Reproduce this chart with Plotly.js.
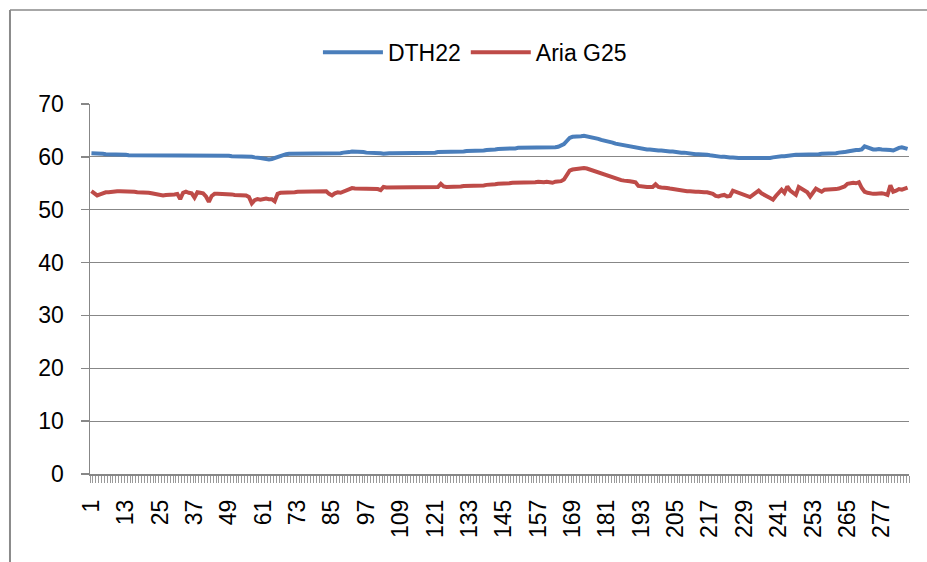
<!DOCTYPE html>
<html>
<head>
<meta charset="utf-8">
<script src="https://cdn.plot.ly/plotly-3.0.1.min.js"></script>
<style>
  html, body { margin: 0; padding: 0; background: #ffffff; }
  #chart { width: 927px; height: 562px; }
</style>
</head>
<body>
<div id="chart"></div>
<script>
// ---- data ----
const seriesNames = ["DTH22", "Aria G25"];

const dth22 = [
  60.7, 60.7, 60.6, 60.6, 60.6, 60.5, 60.5, 60.5, 60.5, 60.4,
  60.4, 60.4, 60.4, 60.3, 60.3, 60.3, 60.3, 60.3, 60.3, 60.3,
  60.3, 60.3, 60.2, 60.2, 60.2, 60.2, 60.2, 60.3, 60.3, 60.3,
  60.3, 60.3, 60.3, 60.3, 60.3, 60.3, 60.3, 60.3, 60.3, 60.3,
  60.3, 60.3, 60.3, 60.3, 60.3, 60.2, 60.2, 60.2, 60.2, 60.1,
  60.1, 60.1, 60.1, 60.0, 60.0, 60.0, 60.0, 59.9, 59.9, 59.8,
  59.7, 59.6, 59.5, 59.6, 59.8, 60.0, 60.2, 60.4, 60.5, 60.6,
  60.6, 60.6, 60.6, 60.6, 60.6, 60.6, 60.6, 60.7, 60.7, 60.7,
  60.7, 60.7, 60.7, 60.7, 60.7, 60.7, 60.7, 60.7, 60.8, 60.8,
  60.9, 61.0, 61.0, 60.9, 60.9, 60.9, 60.8, 60.8, 60.8, 60.8,
  60.7, 60.7, 60.6, 60.7, 60.7, 60.7, 60.7, 60.7, 60.7, 60.7,
  60.7, 60.8, 60.8, 60.8, 60.8, 60.8, 60.8, 60.8, 60.8, 60.8,
  60.8, 60.9, 60.9, 60.9, 60.9, 60.9, 60.9, 61.0, 61.0, 61.0,
  61.0, 61.1, 61.1, 61.1, 61.2, 61.2, 61.2, 61.2, 61.3, 61.3,
  61.4, 61.4, 61.5, 61.5, 61.5, 61.6, 61.6, 61.6, 61.6, 61.7,
  61.7, 61.7, 61.7, 61.7, 61.7, 61.7, 61.7, 61.8, 61.8, 61.7,
  61.7, 61.8, 61.8, 61.9, 62.1, 62.4, 63.0, 63.6, 63.8, 63.8,
  63.9, 63.9, 64.0, 63.9, 63.7, 63.6, 63.5, 63.4, 63.2, 63.1,
  62.9, 62.8, 62.7, 62.5, 62.4, 62.3, 62.2, 62.0, 61.9, 61.8,
  61.7, 61.6, 61.6, 61.5, 61.4, 61.4, 61.3, 61.3, 61.2, 61.2,
  61.1, 61.1, 61.0, 61.0, 60.9, 60.9, 60.8, 60.8, 60.7, 60.6,
  60.6, 60.5, 60.5, 60.5, 60.4, 60.4, 60.3, 60.2, 60.1, 60.1,
  60.0, 60.0, 59.9, 59.9, 59.9, 59.8, 59.8, 59.8, 59.8, 59.7,
  59.7, 59.7, 59.7, 59.7, 59.7, 59.8, 59.8, 59.8, 59.9, 60.0,
  60.0, 60.1, 60.1, 60.2, 60.3, 60.3, 60.4, 60.4, 60.4, 60.4,
  60.5, 60.5, 60.5, 60.5, 60.5, 60.6, 60.6, 60.6, 60.6, 60.7,
  60.7, 60.8, 60.8, 60.9, 61.0, 61.1, 61.3, 61.3, 61.3, 61.4,
  62.0, 61.8, 61.5, 61.4, 61.4, 61.5, 61.4, 61.4, 61.4, 61.3,
  61.2, 61.5, 61.7, 61.8, 61.6, 61.5
];

const ariaG25 = [
  53.5, 53.2, 52.7, 52.9, 53.2, 53.3, 53.3, 53.4, 53.4, 53.5,
  53.5, 53.5, 53.5, 53.5, 53.4, 53.4, 53.3, 53.3, 53.3, 53.3,
  53.2, 53.1, 53.0, 52.9, 52.8, 52.7, 52.8, 52.8, 52.8, 52.9,
  53.0, 52.0, 53.2, 53.4, 53.2, 53.1, 52.3, 53.3, 53.2, 53.1,
  52.5, 51.5, 52.6, 53.0, 53.0, 53.0, 52.9, 52.9, 52.9, 52.9,
  52.8, 52.8, 52.8, 52.8, 52.7, 52.4, 51.2, 51.8, 52.0, 51.9,
  52.0, 52.1, 52.0, 52.0, 51.6, 53.0, 53.2, 53.2, 53.3, 53.3,
  53.3, 53.3, 53.4, 53.4, 53.4, 53.4, 53.4, 53.4, 53.4, 53.4,
  53.5, 53.5, 53.5, 53.0, 52.7, 53.1, 53.3, 53.2, 53.4, 53.5,
  53.8, 54.1, 54.0, 54.0, 54.0, 54.0, 54.0, 53.9, 53.9, 53.9,
  53.9, 53.7, 54.3, 54.2, 54.2, 54.2, 54.2, 54.2, 54.2, 54.2,
  54.2, 54.2, 54.2, 54.2, 54.2, 54.2, 54.3, 54.3, 54.3, 54.3,
  54.3, 54.3, 54.9, 54.4, 54.3, 54.3, 54.4, 54.4, 54.4, 54.4,
  54.5, 54.5, 54.5, 54.5, 54.6, 54.6, 54.6, 54.6, 54.7, 54.7,
  54.8, 54.8, 54.9, 54.9, 55.0, 55.0, 55.0, 55.1, 55.1, 55.1,
  55.2, 55.2, 55.2, 55.2, 55.1, 55.2, 55.3, 55.2, 55.2, 55.3,
  55.2, 55.1, 55.3, 55.3, 55.4, 55.7, 56.5, 57.4, 57.6, 57.7,
  57.7, 57.8, 57.9, 57.8, 57.6, 57.4, 57.2, 57.0, 56.8, 56.6,
  56.4, 56.2, 56.1, 55.9, 55.7, 55.6, 55.5, 55.5, 55.4, 55.3,
  55.2, 54.5, 54.4, 54.4, 54.3, 54.3, 54.3, 54.8, 54.3, 54.2,
  54.2, 54.1, 54.0, 53.9, 53.8, 53.7, 53.7, 53.6, 53.5, 53.5,
  53.4, 53.4, 53.4, 53.3, 53.3, 53.3, 53.2, 53.0, 52.6, 52.5,
  52.7, 52.8, 52.5, 52.6, 53.6, 53.4, 53.2, 53.0, 52.8, 52.6,
  52.4, 52.8, 53.2, 53.6, 53.1, 52.9, 52.5, 52.2, 51.9, 52.6,
  53.3, 53.8, 53.2, 54.4, 53.6, 53.2, 52.8, 54.3, 53.9, 53.5,
  53.3, 52.5, 53.2, 54.0, 53.7, 53.4, 53.8, 53.8, 53.9, 53.9,
  53.9, 54.0, 54.2, 54.4, 54.9, 55.1, 55.1, 55.0, 55.2, 54.1,
  53.4, 53.2, 53.0, 53.0, 53.0, 53.1, 53.1, 53.0, 52.8, 54.6,
  53.4, 53.6, 53.9, 53.8, 54.0, 54.2
];

// categories 1..N (sample index)
const categories = dth22.map((_, i) => i + 1);
// labelled categories (every 12th)
const tickLabels = categories.filter(c => (c - 1) % 12 === 0);
const yTicks = [0, 10, 20, 30, 40, 50, 60, 70];

// ---- chart ----
const FONT = "'Liberation Sans', Arial, sans-serif";
const GRAY = '#878787';

const traces = [
  {
    x: categories, y: dth22, name: seriesNames[0], type: 'scatter', mode: 'lines',
    line: { color: '#4a7ebb', width: 4 }
  },
  {
    x: categories, y: ariaG25, name: seriesNames[1], type: 'scatter', mode: 'lines',
    line: { color: '#be4b48', width: 4 }
  }
];

const layout = {
  width: 927, height: 562,
  margin: { l: 90, r: 18, t: 104, b: 88, pad: 0 },
  paper_bgcolor: '#ffffff', plot_bgcolor: '#ffffff',
  font: { family: FONT, size: 23, color: '#000000' },
  showlegend: true,
  legend: {
    orientation: 'h', x: 0.47, xanchor: 'center', y: 1.14, yanchor: 'middle',
    font: { family: FONT, size: 23, color: '#000' },
    itemwidth: 60, tracegroupgap: 0, bgcolor: 'rgba(0,0,0,0)'
  },
  xaxis: {
    range: [0.5, categories.length + 0.5],
    tickmode: 'array', tickvals: tickLabels, ticktext: tickLabels.map(String),
    tickangle: -90, ticks: '', showgrid: false, zeroline: false,
    showline: true, linecolor: GRAY, linewidth: 1.5,
    ticklabelstandoff: 15,
    tickfont: { family: FONT, size: 23, color: '#000' },
    minor: { tickmode: 'linear', tick0: 0.5, dtick: 1, ticks: 'outside', ticklen: 7, tickcolor: '#9a9a9a', tickwidth: 1 },
    automargin: false, fixedrange: true
  },
  yaxis: {
    range: [0, 70], tickmode: 'array', tickvals: yTicks, ticktext: yTicks.map(String),
    ticks: 'outside', ticklen: 8, tickcolor: GRAY, tickwidth: 1.5,
    showgrid: true, gridcolor: GRAY, gridwidth: 1.2, zeroline: false,
    showline: true, linecolor: GRAY, linewidth: 1.5,
    ticklabelstandoff: 12,
    tickfont: { family: FONT, size: 23, color: '#000' },
    automargin: false, fixedrange: true
  },
  shapes: [
    // chart-area border (left and top edges visible)
    { type: 'line', xref: 'paper', yref: 'paper', x0: -0.0977, x1: -0.0977, y0: 1.254, y1: -0.4, line: { color: '#8a8a8a', width: 2 } },
    { type: 'line', xref: 'paper', yref: 'paper', x0: -0.0977, x1: 1.2, y0: 1.254, y1: 1.254, line: { color: '#8a8a8a', width: 1.5 } }
  ]
};

Plotly.newPlot('chart', traces, layout, { staticPlot: true, displayModeBar: false });
</script>
</body>
</html>
